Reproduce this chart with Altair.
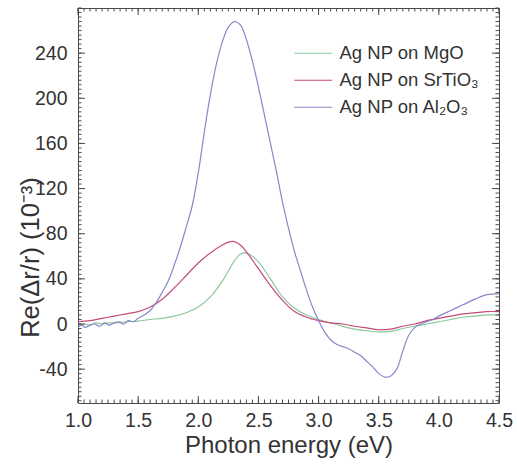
import altair as alt
import pandas as pd
import numpy as np

# ---- data ----
series_names = ["Ag NP on MgO", "Ag NP on SrTiO\u2083", "Ag NP on Al\u2082O\u2083"]
series_colors = ["#8cc89a", "#c64a7a", "#8787cb"]

energy_mgo = [1.00, 1.05, 1.10, 1.15, 1.20, 1.25, 1.30, 1.40, 1.50, 1.60, 1.70, 1.80, 1.90,
              2.00, 2.10, 2.20, 2.25, 2.30, 2.35, 2.40, 2.45, 2.50, 2.60, 2.70, 2.80, 2.90,
              3.00, 3.10, 3.20, 3.30, 3.40, 3.50, 3.55, 3.60, 3.70, 3.80, 3.90, 4.00, 4.10,
              4.20, 4.30, 4.40, 4.50]
re_mgo = [-2, 0, -1, 1, 0, 1, 1, 2, 2.5, 4, 5, 7, 10,
          15, 24, 38, 47, 56, 62, 63, 60, 55, 40, 24, 14, 8,
          4, 1, -2, -4.5, -6, -7, -7, -6.5, -4, -2, 0, 2, 4,
          6, 7, 8, 8]

energy_sto = [1.00, 1.10, 1.20, 1.30, 1.40, 1.50, 1.60, 1.70, 1.80, 1.90, 2.00, 2.10, 2.20,
              2.25, 2.30, 2.35, 2.40, 2.50, 2.60, 2.70, 2.80, 2.90, 3.00, 3.10, 3.20, 3.30,
              3.40, 3.50, 3.55, 3.60, 3.70, 3.80, 3.90, 4.00, 4.10, 4.20, 4.30, 4.40, 4.50]
re_sto = [2, 3, 5, 7, 9, 11, 15, 22, 32, 43, 54, 63, 70,
          72.5, 73, 70, 64, 49, 34, 21, 11, 6, 3, 1, 0, -2,
          -3.5, -5, -5, -4.5, -2, 0, 3, 5, 7, 9, 10, 11, 11]

energy_alo = [1.00, 1.03, 1.06, 1.10, 1.14, 1.18, 1.22, 1.26, 1.30, 1.34, 1.38, 1.42, 1.46,
              1.50, 1.55, 1.60, 1.65, 1.70, 1.75, 1.80, 1.85, 1.90, 1.95, 2.00, 2.05, 2.10,
              2.15, 2.20, 2.25, 2.30, 2.35, 2.40, 2.45, 2.50, 2.55, 2.60, 2.65, 2.70, 2.75,
              2.80, 2.85, 2.90, 2.95, 3.00, 3.05, 3.10, 3.15, 3.20, 3.25, 3.30, 3.35, 3.40,
              3.45, 3.50, 3.55, 3.60, 3.65, 3.70, 3.75, 3.80, 3.85, 3.90, 3.95, 4.00, 4.10,
              4.20, 4.30, 4.40, 4.50]
re_alo = [-3, -1, -3, -1, 0, -2, 1, -1, 1, 2, 0, 3, 2,
          5, 8, 12, 19, 28, 38, 52, 68, 86, 105, 134, 170, 203,
          230, 250, 263, 268, 265, 252, 233, 210, 185, 160, 135, 108, 85,
          64, 47, 30, 15, 3, -7, -14, -18, -20, -22, -25, -28, -33,
          -38, -44, -47, -46, -40, -24, -10, -3, 0, 2, 4, 7, 12,
          17, 22, 26, 27]

x_major = [1.0, 1.5, 2.0, 2.5, 3.0, 3.5, 4.0, 4.5]
y_major = [-40, 0, 40, 80, 120, 160, 200, 240]
x_minor = [round(v, 2) for v in np.arange(1.0, 4.5001, 0.05)]
y_minor = list(range(-68, 281, 4))

# ---- layout / style ----
W, H = 421, 395
FONT = "Liberation Sans"
TXT = "#333333"
FRAME = "#4a4a4a"
MAJ, MIN = 7, 3.5

xscale = alt.Scale(domain=[1.0, 4.5], nice=False, zero=False)
yscale = alt.Scale(domain=[-70, 280], nice=False, zero=False)
x_axis = alt.Axis(values=x_major, format=".1f", title="Photon energy (eV)", titleY=30,
                  labelFlush=False)
y_axis = alt.Axis(values=y_major, labelExpr="toString(datum.value)",
                  title="Re(\u0394r/r) (10\u207b\u00b3)",
                  titleAngle=-90, titleX=-48, titleY=249, titleFontSize=25.5,
                  titleAlign="center", titleBaseline="middle", labelFlush=False)

frames = []
for name, e, v in [(series_names[0], energy_mgo, re_mgo),
                   (series_names[1], energy_sto, re_sto),
                   (series_names[2], energy_alo, re_alo)]:
    frames.append(pd.DataFrame({"E": e, "R": v, "series": name}))
df = pd.concat(frames, ignore_index=True)

lines = alt.Chart(df).mark_line(strokeWidth=1.2, interpolate="catmull-rom").encode(
    x=alt.X("E:Q", scale=xscale, axis=x_axis),
    y=alt.Y("R:Q", scale=yscale, axis=y_axis),
    color=alt.Color("series:N",
                    scale=alt.Scale(domain=series_names, range=series_colors),
                    legend=alt.Legend(title=None, orient="none", legendX=226, legendY=36,
                                      symbolType="M-4,0H4", symbolSize=90,
                                      symbolStrokeWidth=1.2, labelFontSize=18.5,
                                      labelFont=FONT, labelColor=TXT, labelOffset=17,
                                      rowPadding=8)),
    detail="series:N",
)

def xticks(vals, size, top):
    d = pd.DataFrame({"E": vals})
    if top:
        enc = dict(y=alt.value(0), y2=alt.value(size))
    else:
        enc = dict(y=alt.value(H), y2=alt.value(H - size))
    return alt.Chart(d).mark_rule(color=FRAME, strokeWidth=1).encode(
        x=alt.X("E:Q", scale=xscale, axis=x_axis), **enc)

def yticks(vals, size, right):
    d = pd.DataFrame({"R": vals})
    if right:
        enc = dict(x=alt.value(W), x2=alt.value(W - size))
    else:
        enc = dict(x=alt.value(0), x2=alt.value(size))
    return alt.Chart(d).mark_rule(color=FRAME, strokeWidth=1).encode(
        y=alt.Y("R:Q", scale=yscale, axis=y_axis), **enc)

ticks = [xticks(x_minor, MIN, False), xticks(x_minor, MIN, True),
         xticks(x_major, MAJ, False), xticks(x_major, MAJ, True),
         yticks(y_minor, MIN, False), yticks(y_minor, MIN, True),
         yticks(y_major, MAJ, False), yticks(y_major, MAJ, True)]

chart = alt.layer(lines, *ticks).properties(
    width=W, height=H,
    autosize=alt.AutoSizeParams(type="none"),
    padding={"left": 78, "top": 8, "right": 18, "bottom": 61},
    background="white",
).configure_view(
    stroke=FRAME, strokeWidth=1
).configure_axis(
    grid=False, domain=False, ticks=False, tickSize=0,
    labelFont=FONT, labelFontSize=19.5, labelColor=TXT,
    titleFont=FONT, titleFontSize=24, titleColor=TXT, titleFontWeight="normal",
).configure_axisX(
    labelPadding=8
).configure_axisY(
    labelPadding=11
)

chart.save("out.html", embed_options={"renderer": "svg", "actions": False})
